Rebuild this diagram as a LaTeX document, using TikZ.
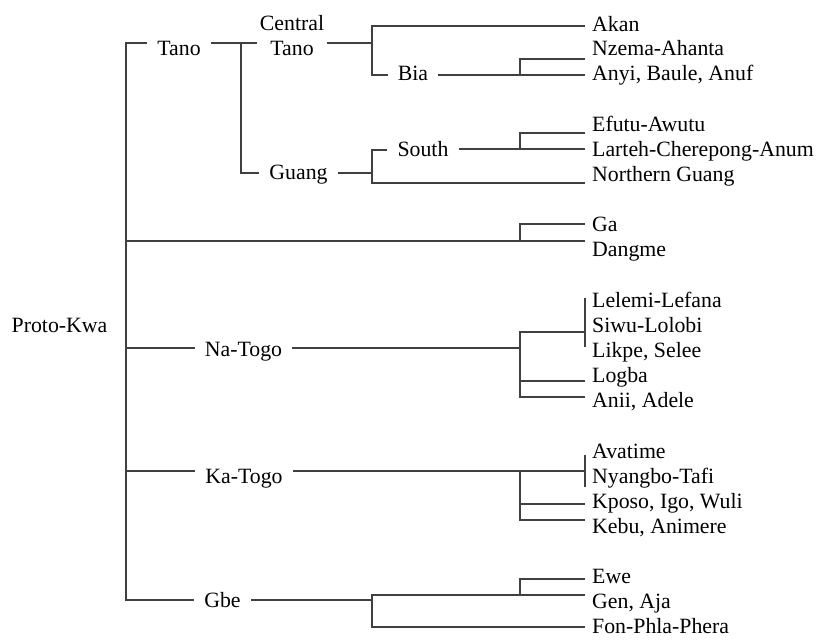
\documentclass[tikz,border=0pt]{standalone}
\usepackage{fontspec}
\setmainfont{Liberation Serif}

\begin{document}
\begin{tikzpicture}[x=1pt, y=-1pt,
    font=\fontsize{21.8}{25}\selectfont,
    lbl/.style={anchor=base, inner xsep=10pt, inner ysep=0pt},
    leaf/.style={anchor=base west, inner xsep=7pt, inner ysep=0pt},
    branch/.style={draw=black!75, line width=1.2pt}]
  \useasboundingbox (0, 0) rectangle (817, 641);
  \node (protokwa) at (59.5, 332) [lbl] {Proto-Kwa};
  \node (tano) at (179, 55) [lbl] {Tano};
  \node (ctano) at (292, 15) [anchor=north, align=center, inner xsep=3pt, inner ysep=0pt] {Central\\Tano};
  \node (bia) at (413, 80) [lbl] {Bia};
  \node (guang) at (298.5, 179.5) [lbl] {Guang};
  \node (south) at (423, 156) [lbl] {South};
  \node (natogo) at (243.5, 356) [lbl] {Na-Togo};
  \node (katogo) at (244, 483) [lbl] {Ka-Togo};
  \node (gbe) at (222.5, 607) [lbl] {Gbe};
  \node (akan) at (585, 31) [leaf] {Akan};
  \node (nzema) at (585, 55.5) [leaf] {Nzema-Ahanta};
  \node (anyi) at (585, 80) [leaf] {Anyi, Baule, Anuf};
  \node (efutu) at (585, 131) [leaf] {Efutu-Awutu};
  \node (larteh) at (585, 156) [leaf] {Larteh-Cherepong-Anum};
  \node (nguang) at (585, 181) [leaf] {Northern Guang};
  \node (ga) at (585, 231.5) [leaf] {Ga};
  \node (dangme) at (585, 256.5) [leaf] {Dangme};
  \node (lelemi) at (585, 307) [leaf] {Lelemi-Lefana};
  \node (siwu) at (585, 332) [leaf] {Siwu-Lolobi};
  \node (likpe) at (585, 357) [leaf] {Likpe, Selee};
  \node (logba) at (585, 382) [leaf] {Logba};
  \node (anii) at (585, 407) [leaf] {Anii, Adele};
  \node (avatime) at (585, 458) [leaf] {Avatime};
  \node (nyangbo) at (585, 483) [leaf] {Nyangbo-Tafi};
  \node (kposo) at (585, 508) [leaf] {Kposo, Igo, Wuli};
  \node (kebu) at (585, 533) [leaf] {Kebu, Animere};
  \node (ewe) at (585, 583) [leaf] {Ewe};
  \node (gen) at (585, 608) [leaf] {Gen, Aja};
  \node (fon) at (585, 633) [leaf] {Fon-Phla-Phera};
  \coordinate (kwa-top) at (126, 43);
  \coordinate (kwa-bot) at (126, 600);
  \coordinate (tano-j) at (241, 43);
  \coordinate (guang-j) at (241, 173);
  \coordinate (ct-top) at (372, 26);
  \coordinate (ct-bot) at (372, 75);
  \coordinate (bia-j) at (520, 59);
  \coordinate (gu-top) at (372, 150);
  \coordinate (gu-bot) at (372, 183);
  \coordinate (sth-top) at (520, 133);
  \coordinate (sth-j) at (520, 149);
  \coordinate (ga-top) at (520, 224);
  \coordinate (ga-j) at (520, 241);
  \coordinate (na-top) at (520, 332);
  \coordinate (na-j) at (520, 348);
  \coordinate (na-mid) at (520, 381);
  \coordinate (na-bot) at (520, 397);
  \coordinate (na-bar-top) at (585, 298);
  \coordinate (na-bar-bot) at (585, 347);
  \coordinate (ka-j) at (520, 471);
  \coordinate (ka-mid) at (520, 504);
  \coordinate (ka-bot) at (520, 520);
  \coordinate (ka-bar-top) at (585, 455);
  \coordinate (ka-bar-bot) at (585, 487);
  \coordinate (gbe-top) at (372, 595);
  \coordinate (gbe-j) at (372, 600);
  \coordinate (gbe-bot) at (372, 627);
  \coordinate (ewe-j) at (520, 579);
  \draw[branch] (tano.west |- kwa-top) -| (kwa-bot) -- (gbe.west |- kwa-bot);
  \draw[branch] (tano.east |- kwa-top) -- (ctano.west |- kwa-top);
  \draw[branch] (tano-j) -- (guang-j) -- (guang.west |- guang-j);
  \draw[branch] (ctano.east |- kwa-top) -- (ct-top |- kwa-top);
  \draw[branch] (akan.west |- ct-top) -| (ct-bot) -- (bia.west |- ct-bot);
  \draw[branch] (bia.east |- ct-bot) -- (anyi.west |- ct-bot);
  \draw[branch] (nzema.west |- bia-j) -| (bia-j |- ct-bot);
  \draw[branch] (guang.east |- guang-j) -- (gu-top |- guang-j);
  \draw[branch] (south.west |- gu-top) -| (gu-bot) -- (nguang.west |- gu-bot);
  \draw[branch] (south.east |- sth-j) -- (larteh.west |- sth-j);
  \draw[branch] (efutu.west |- sth-top) -| (sth-j);
  \draw[branch] (kwa-top |- ga-j) -- (dangme.west |- ga-j);
  \draw[branch] (ga-j) |- (ga.west |- ga-top);
  \draw[branch] (kwa-top |- na-j) -- (natogo.west |- na-j);
  \draw[branch] (natogo.east |- na-j) -- (na-j);
  \draw[branch] (na-bar-top |- na-top) -| (na-bot) -- (anii.west |- na-bot);
  \draw[branch] (na-mid) -- (logba.west |- na-mid);
  \draw[branch] (na-bar-top) -- (na-bar-bot);
  \draw[branch] (kwa-top |- ka-j) -- (katogo.west |- ka-j);
  \draw[branch] (katogo.east |- ka-j) -- (ka-bar-top |- ka-j);
  \draw[branch] (ka-bar-top) -- (ka-bar-bot);
  \draw[branch] (ka-j) -- (ka-bot) -- (kebu.west |- ka-bot);
  \draw[branch] (ka-mid) -- (kposo.west |- ka-mid);
  \draw[branch] (gbe.east |- gbe-j) -- (gbe-j);
  \draw[branch] (gen.west |- gbe-top) -| (gbe-bot) -- (fon.west |- gbe-bot);
  \draw[branch] (ewe.west |- ewe-j) -| (ewe-j |- gbe-top);
\end{tikzpicture}
\end{document}
